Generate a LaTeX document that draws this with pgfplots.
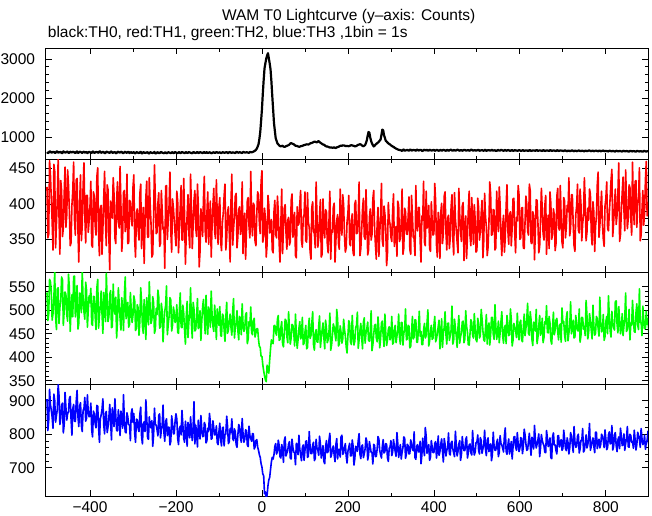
\documentclass[border=0pt]{standalone}
\usepackage{pgfplots}
\pgfplotsset{compat=1.18}
\usepackage{pgfplotstable}
\usepackage{fontspec}
\setmainfont{Liberation Sans}

% WAM lightcurve: t, TH0, TH1, TH2, TH3
% even bins
\pgfplotstableread{
t k r g b
-500 612 424 538 905
-496 598 357 492 842
-492 625 441 561 889
-488 604 375 479 851
-484 618 456 526 920
-480 593 338 487 836
-476 630 407 546 874
-472 607 382 472 915
-468 621 433 518 848
-464 589 354 565 893
-460 614 415 499 829
-456 602 367 534 881
-452 627 448 477 862
-448 595 391 549 907
-444 611 345 503 845
-440 620 419 486 876
-436 600 377 573 839
-432 616 434 511 898
-428 591 363 460 853
-424 624 401 537 884
-420 606 348 495 826
-416 613 425 522 871
-412 597 384 481 910
-408 619 412 543 847
-404 603 360 500 865
-400 609 396 516 858
-396 590 342 471 813
-392 622 417 530 869
-388 601 370 488 832
-384 615 438 547 886
-380 594 357 462 821
-376 626 393 509 847
-372 605 329 493 874
-368 612 408 538 828
-364 588 375 476 862
-360 618 427 521 805
-356 600 352 487 851
-352 623 404 542 837
-348 596 380 465 879
-344 610 413 505 823
-340 584 344 528 856
-336 617 431 479 810
-332 603 366 514 844
-328 621 398 458 869
-324 592 355 499 818
-320 608 419 533 841
-316 599 371 482 804
-312 614 344 517 852
-308 587 405 470 827
-304 611 378 501 863
-300 602 423 489 836
-296 585 349 521 802
-292 611 387 462 845
-288 594 364 505 817
-284 606 414 476 859
-280 580 337 518 793
-276 613 395 451 832
-272 591 372 495 808
-268 603 432 527 851
-264 584 353 469 785
-260 609 400 502 824
-256 593 325 480 841
-252 600 383 516 798
-248 578 408 459 830
-244 605 360 491 813
-240 589 416 528 856
-236 611 344 465 789
-232 596 391 499 827
-228 583 367 473 805
-224 607 425 511 838
-220 592 350 448 796
-216 604 398 487 821
-212 587 362 522 779
-208 610 407 468 832
-204 595 376 496 802
-200 601 341 479 861
-196 586 404 453 787
-192 608 367 501 816
-188 593 426 465 798
-184 605 349 511 829
-180 582 385 458 776
-176 612 358 488 811
-172 597 413 442 835
-168 604 338 493 789
-164 590 392 470 807
-160 609 371 517 824
-156 594 419 456 771
-152 603 354 485 803
-148 588 397 461 842
-144 611 333 499 786
-140 598 380 476 817
-136 606 408 523 794
-132 591 362 450 828
-128 613 387 482 781
-124 596 343 507 809
-120 602 404 464 836
-116 589 369 491 788
-112 608 422 455 818
-108 595 351 479 799
-104 604 384 503 775
-100 600 395 468 808
-96 592 347 446 783
-92 611 373 492 819
-88 597 411 459 765
-84 606 335 485 801
-80 590 388 451 824
-76 614 360 479 778
-72 599 404 463 805
-68 607 342 498 787
-64 594 382 441 816
-60 612 415 474 769
-56 601 354 457 798
-52 609 396 487 822
-48 596 369 448 776
-44 615 330 471 802
-40 603 387 460 785
-36 608 363 495 811
-32 598 409 439 763
-28 617 352 467 796
-24 605 378 452 779
-20 622 401 478 801
-16 648 347 443 762
-12 702 385 461 784
-8 812 413 438 752
-4 1120 358 421 731
0 1710 447 402 702
4 2460 354 371 676
8 2890 380 352 628
12 3090 343 383 618
16 3020 398 366 664
20 2730 366 418 695
24 2060 335 431 731
28 1360 389 467 739
32 970 357 452 772
36 835 411 481 748
40 785 345 436 767
44 762 372 463 729
48 775 330 429 758
52 748 394 452 781
56 764 359 478 735
60 782 377 431 752
64 808 342 459 778
68 845 405 442 726
72 823 353 468 761
76 795 388 424 744
80 772 324 451 773
84 758 370 437 739
88 752 399 476 756
92 768 348 445 721
96 783 381 427 768
100 798 417 453 751
104 812 346 418 780
108 806 374 461 734
112 834 333 440 763
116 848 395 472 742
120 873 361 427 776
124 879 338 449 728
128 862 383 433 759
132 894 351 466 737
136 852 406 421 771
140 821 329 458 748
144 803 368 442 719
148 768 392 479 762
152 757 344 431 745
156 738 377 456 783
160 731 322 415 731
164 723 360 448 757
168 737 401 464 738
172 718 348 435 769
176 742 385 481 726
180 761 336 428 754
184 777 370 453 792
188 786 413 439 740
192 779 355 460 761
196 768 338 422 735
200 766 387 446 749
204 772 344 471 773
208 791 375 427 736
212 778 331 452 765
216 759 400 434 727
220 773 358 468 758
224 801 382 419 782
228 817 327 457 741
232 789 364 442 764
236 762 408 475 730
240 793 350 430 757
244 918 378 461 779
248 1128 335 436 738
252 982 393 453 762
256 834 357 414 745
260 758 419 449 770
264 803 342 470 733
268 842 373 433 756
272 881 326 458 786
276 935 384 440 739
280 1188 348 477 763
284 1046 397 423 744
288 902 365 451 772
292 858 331 437 729
296 819 379 465 758
300 788 353 445 781
304 757 389 428 747
308 729 340 462 765
312 702 368 431 734
316 681 404 456 772
320 668 347 442 749
324 655 375 474 726
328 672 329 426 761
332 649 394 459 788
336 663 358 437 740
340 657 381 468 766
344 674 336 420 742
348 651 412 452 773
352 668 353 439 751
356 660 327 480 730
360 676 370 432 764
364 653 395 461 747
368 669 348 445 779
372 646 383 427 738
376 664 432 458 758
380 658 341 441 820
384 671 366 473 743
388 650 398 424 769
392 666 333 456 731
396 655 377 438 762
400 672 358 467 745
404 654 404 433 778
408 665 325 451 752
412 648 372 479 737
416 670 388 442 771
420 657 344 421 748
424 663 411 464 787
428 645 360 448 735
432 668 380 472 760
436 659 337 436 742
440 674 396 458 774
444 650 352 428 756
448 662 416 481 733
452 656 363 445 768
456 671 331 463 749
460 647 385 430 781
464 664 347 452 739
468 658 402 477 764
472 669 369 439 751
476 652 323 466 792
480 666 391 427 744
484 655 355 450 771
488 673 409 474 738
492 649 343 441 760
496 661 378 460 747
500 658 334 433 776
504 670 395 469 751
508 653 361 446 790
512 664 405 482 743
516 647 348 437 768
520 668 382 461 755
524 654 327 428 782
528 662 373 473 748
532 650 413 449 771
536 667 357 485 739
540 656 391 438 764
544 645 338 467 752
548 663 379 452 785
552 651 424 431 746
556 669 352 476 773
560 654 370 445 758
564 660 332 463 796
568 648 397 429 749
572 666 363 472 767
576 652 385 448 741
580 661 341 481 778
584 647 407 436 760
588 664 359 465 793
592 655 381 442 752
596 650 426 457 771
600 659 350 474 758
604 646 394 437 786
608 662 338 463 763
612 651 375 446 799
616 657 400 482 752
620 643 356 451 778
624 660 419 497 767
628 648 344 438 791
632 656 384 475 756
636 645 362 456 783
640 661 405 429 770
644 650 331 468 801
648 655 377 447 759
652 642 393 483 782
656 658 349 442 766
660 647 412 471 745
664 654 368 453 788
668 643 337 487 772
672 660 401 436 730
676 649 358 464 792
680 653 385 448 768
684 641 344 479 751
688 657 422 454 795
692 648 363 467 762
696 652 381 432 784
700 645 338 473 757
704 656 404 447 786
708 640 367 484 751
712 651 389 435 775
716 638 355 466 760
720 654 413 450 793
724 643 372 479 746
728 649 333 443 778
732 636 397 471 763
736 652 363 456 800
740 641 421 432 756
744 648 348 485 781
748 637 384 460 747
752 650 402 446 774
756 639 360 489 759
760 653 377 454 791
764 642 414 477 752
768 647 342 439 779
772 635 389 468 764
776 651 368 451 806
780 640 427 482 757
784 646 353 445 785
788 634 395 474 769
792 649 372 458 794
796 641 340 436 760
800 644 408 476 786
804 633 365 450 760
808 648 387 487 807
812 637 433 443 774
816 642 354 471 753
820 630 398 458 798
824 646 371 520 766
828 635 415 452 783
832 643 347 479 757
836 631 390 461 794
840 645 438 446 771
844 634 362 484 752
848 640 404 455 789
852 629 379 472 763
856 644 423 437 800
860 633 356 468 776
864 639 395 481 758
868 628 432 453 785
872 642 367 514 769
876 632 409 459 796
880 638 348 474 761
884 627 391 446 788
888 641 370 481 774
892 631 434 462 755
896 636 383 470 782
900 630 401 452 767
}\wam

% odd bins
\pgfplotstableread{
t k r g b
-498 588 352 478 811
-494 631 461 566 934
-490 601 408 541 872
-486 619 335 493 818
-482 594 446 582 901
-478 628 372 459 856
-474 597 463 548 948
-470 612 329 506 829
-466 586 419 571 887
-462 633 366 468 804
-458 605 452 539 925
-454 620 384 491 842
-450 592 427 577 866
-446 626 341 455 913
-442 603 398 533 797
-438 617 459 572 889
-434 589 356 486 838
-430 629 436 553 931
-426 599 318 472 823
-422 614 441 525 894
-418 591 370 584 808
-414 624 458 497 877
-410 607 345 560 839
-406 586 412 464 918
-402 622 376 531 852
-398 599 432 547 893
-394 628 339 468 792
-390 590 411 529 861
-386 615 356 459 819
-382 603 451 566 884
-378 631 327 488 776
-374 594 398 541 857
-370 618 365 451 906
-366 587 446 520 801
-362 624 341 579 868
-358 606 420 476 822
-354 591 307 534 889
-350 627 389 463 783
-346 598 437 556 847
-342 613 352 492 906
-338 589 405 441 811
-334 622 374 548 873
-330 601 453 483 796
-326 615 333 527 852
-322 586 416 457 918
-318 626 361 571 807
-314 597 442 496 864
-310 620 345 464 829
-306 604 403 538 781
-302 592 369 474 876
-298 613 441 531 862
-294 584 325 457 776
-290 607 393 512 843
-286 590 349 447 808
-282 619 428 548 881
-278 581 367 466 771
-274 603 316 523 837
-270 596 410 438 903
-266 612 353 503 789
-262 578 437 561 852
-258 605 372 472 819
-254 591 329 529 764
-250 616 455 451 878
-246 583 358 504 827
-242 608 401 543 795
-238 587 340 462 861
-234 614 419 515 812
-230 592 364 433 887
-226 601 309 498 779
-222 580 426 552 846
-218 610 377 469 821
-214 594 445 527 768
-210 603 332 456 855
-206 585 395 507 801
-202 612 358 474 839
-198 593 418 512 846
-194 607 331 451 769
-190 586 396 537 824
-186 615 349 463 871
-182 597 436 494 788
-178 604 315 428 839
-174 589 384 519 764
-170 613 359 476 815
-166 596 442 548 852
-162 582 337 441 781
-158 608 405 502 897
-154 591 366 459 827
-150 617 428 525 762
-146 595 311 472 809
-142 604 393 436 856
-138 586 354 507 793
-134 612 439 488 835
-130 598 346 532 774
-126 590 417 449 818
-122 609 372 491 862
-118 584 325 541 785
-114 603 398 466 840
-110 593 361 511 798
-106 615 434 438 825
-102 597 343 483 769
-98 610 409 508 833
-94 589 334 445 765
-90 606 387 489 821
-86 598 428 434 798
-82 614 351 517 854
-78 592 396 458 772
-74 609 318 492 817
-70 595 442 447 846
-66 603 365 525 781
-62 588 411 463 808
-58 616 338 499 761
-54 597 392 437 829
-50 605 357 482 790
-46 590 431 514 847
-42 612 373 455 776
-38 599 322 491 813
-34 607 405 429 768
-30 594 368 476 824
-26 611 446 507 787
-22 616 355 448 802
-18 637 398 483 756
-14 671 341 452 781
-10 752 417 461 762
-6 948 372 423 739
-2 1405 431 402 712
2 2108 346 384 681
6 2760 394 361 622
10 3010 325 348 612
14 3150 412 379 646
18 2890 359 394 671
22 2430 378 437 718
26 1710 331 429 726
30 1160 405 468 764
34 905 352 447 741
38 812 389 489 782
42 768 318 438 733
46 770 421 476 769
50 756 364 422 716
54 751 399 481 792
58 774 336 444 744
62 792 381 497 771
66 834 347 428 728
70 832 414 470 785
74 813 361 453 747
78 777 327 492 709
82 768 396 419 766
86 751 372 461 797
90 763 419 439 738
94 772 339 485 760
98 793 385 430 722
102 806 348 468 779
106 811 416 421 731
110 817 367 483 808
114 843 322 446 742
118 857 403 497 768
122 879 358 415 721
126 866 431 459 785
130 884 339 432 753
134 871 384 488 794
138 838 325 441 729
142 807 407 473 766
146 789 352 418 712
150 757 389 462 781
154 748 331 437 748
158 731 418 494 803
162 731 363 426 739
166 727 395 471 765
170 722 318 449 718
174 733 377 502 787
178 747 344 424 755
182 773 421 467 732
186 776 356 430 797
190 785 399 481 744
194 770 332 445 772
198 769 375 409 714
202 765 412 478 761
206 783 341 433 735
210 782 386 489 783
214 773 327 426 708
218 762 405 463 764
222 788 359 496 749
226 805 431 437 802
230 808 337 472 727
234 772 393 418 768
238 778 354 484 741
242 847 420 451 789
246 1038 328 475 723
250 1104 381 434 778
254 897 349 499 746
258 793 407 427 711
262 772 366 468 766
266 823 322 441 734
270 857 395 486 793
274 908 358 420 751
278 1057 429 473 729
282 1173 340 446 784
286 977 386 492 748
290 884 313 425 770
294 837 402 459 719
298 808 371 437 762
302 772 347 487 736
306 748 414 431 784
310 716 365 468 748
314 693 326 445 805
318 672 398 492 731
322 664 352 428 769
326 641 421 474 746
330 678 338 451 792
334 655 389 503 728
338 670 357 439 770
342 648 410 466 741
346 676 329 423 783
350 657 384 487 754
354 665 351 443 807
358 645 426 479 725
362 671 362 432 769
366 659 395 498 748
370 668 318 455 712
374 642 377 427 788
378 673 346 472 736
382 661 418 446 794
386 650 370 501 759
390 672 337 434 722
394 654 403 468 781
398 664 356 441 745
402 646 429 487 773
406 668 342 439 729
410 651 388 465 795
414 662 323 418 748
418 647 401 482 786
422 673 359 451 717
426 655 417 497 770
430 666 335 428 752
434 644 384 473 804
438 670 352 446 738
442 653 413 509 779
446 665 328 436 744
450 649 379 462 809
454 672 346 421 735
458 657 422 489 771
462 663 361 444 722
466 645 397 475 793
470 669 320 431 751
474 654 383 499 784
478 660 354 454 729
482 648 418 426 768
486 671 341 480 745
490 656 375 447 811
494 664 399 493 738
498 647 332 437 775
502 665 408 483 798
506 646 349 441 741
510 659 387 502 782
514 651 324 456 757
518 668 415 434 812
522 642 368 491 736
526 661 339 463 789
530 655 431 426 764
534 667 356 485 721
538 649 392 449 806
542 660 335 512 752
546 644 418 438 775
550 666 361 477 733
554 653 399 452 796
558 662 327 497 768
562 645 384 430 747
566 668 352 468 819
570 651 427 489 740
574 659 343 446 786
578 641 389 503 759
582 664 366 424 726
586 648 408 472 792
590 656 331 458 763
594 647 376 494 805
598 662 413 437 748
602 645 352 479 790
606 659 395 433 742
610 640 337 492 815
614 655 411 461 771
618 647 362 515 754
622 661 428 447 803
626 642 345 480 737
630 657 389 425 782
634 651 321 468 826
638 663 406 502 759
642 644 373 443 784
646 658 340 489 733
650 646 422 455 799
654 662 358 431 772
658 641 397 476 746
662 655 329 510 811
666 649 384 452 763
670 661 417 473 789
674 643 350 428 727
678 656 393 496 804
682 645 334 458 768
686 659 411 483 741
690 640 367 437 796
694 654 426 471 775
698 648 346 505 752
702 639 409 476 812
706 653 352 434 758
710 636 398 497 789
714 650 437 452 741
718 641 366 518 805
722 655 413 467 770
726 634 341 441 823
730 648 385 489 761
734 640 428 457 794
738 652 359 503 744
742 637 401 446 782
746 649 372 484 817
750 633 437 465 752
754 646 348 521 798
758 641 394 439 769
762 654 421 493 832
766 635 360 458 764
770 647 403 511 789
774 640 333 447 745
778 651 382 487 806
782 634 445 462 775
786 648 369 528 759
790 639 418 454 800
794 652 351 491 781
798 636 397 444 813
802 642 431 487 754
806 630 362 531 798
810 645 409 456 771
814 634 449 498 826
818 640 373 463 763
822 628 421 519 805
826 643 384 471 748
830 632 458 508 792
834 639 357 450 818
838 627 416 493 766
842 644 392 466 801
846 631 448 537 772
850 638 365 459 823
854 626 427 502 761
858 641 380 472 796
862 630 459 521 778
866 637 371 455 812
870 625 433 495 753
874 640 398 468 806
878 629 451 546 784
882 636 356 474 817
886 624 419 509 769
890 639 386 461 797
894 628 460 498 775
898 634 402 482 809
}\wamb

% one time-ordered series
\pgfplotstablevertcat{\wam}{\wamb}
\pgfplotstablesort[sort key=t]{\wamall}{\wam}

\pgfplotsset{
  wampanel/.style={
    scale only axis, width=602.3pt,
    xmin=-503, xmax=898,
    xtick={-400,-200,...,800},
    minor x tick num=1,
    minor y tick num=4,
    tick align=inside,
    xtick pos=both, ytick pos=both,
    major tick length=6pt, minor tick length=3.5pt,
    axis line style={line width=1pt},
    every tick/.style={black, line width=0.8pt},
    tick label style={font=\fontsize{15.5}{17}\selectfont},
    /pgf/number format/assume math mode=true,
    /pgf/number format/1000 sep={},
    scaled y ticks=false,
    yticklabel style={inner sep=0pt, xshift=-10.5pt},
    xticklabels={},
  },
  wamline/.style={line width=1.6pt, line join=round},
}

\begin{document}
\begin{tikzpicture}
\useasboundingbox (-45.7pt,-19pt) rectangle (606.3pt,496pt);

\node[anchor=base, inner sep=0pt, font=\fontsize{15.5}{17}\selectfont]
  at (303pt,475.3pt) {WAM T0 Lightcurve (y–axis: Counts)};
\node[anchor=base west, inner sep=0pt, font=\fontsize{15.5}{17}\selectfont]
  at (2pt,458.3pt) {black:TH0, red:TH1, green:TH2, blue:TH3 ,1bin = 1s};

% TH0
\begin{axis}[wampanel, at={(0pt,336.7pt)}, height=111pt,
  ymin=428, ymax=3275, ytick={1000,2000,3000}]
  \addplot[black, line width=2.2pt, line join=round] table[x=t, y=k] {\wamall};
\end{axis}

% TH1
\begin{axis}[wampanel, at={(0pt,223.7pt)}, height=113pt,
  ymin=303.5, ymax=463, ytick={350,400,450}]
  \addplot[red, wamline] table[x=t, y=r] {\wamall};
\end{axis}

% TH2
\begin{axis}[wampanel, at={(0pt,112pt)}, height=111.7pt,
  ymin=343, ymax=581, ytick={350,400,...,550}]
  \addplot[green, wamline] table[x=t, y=g] {\wamall};
\end{axis}

% TH3
\begin{axis}[wampanel, at={(0pt,0pt)}, height=112pt,
  ymin=615.5, ymax=950, ytick={700,800,900},
  xticklabels={−400,−200,0,200,400,600,800},
  xticklabel style={inner sep=0pt, yshift=-5.7pt}]
  \addplot[blue, wamline] table[x=t, y=b] {\wamall};
\end{axis}
\end{tikzpicture}
\end{document}
